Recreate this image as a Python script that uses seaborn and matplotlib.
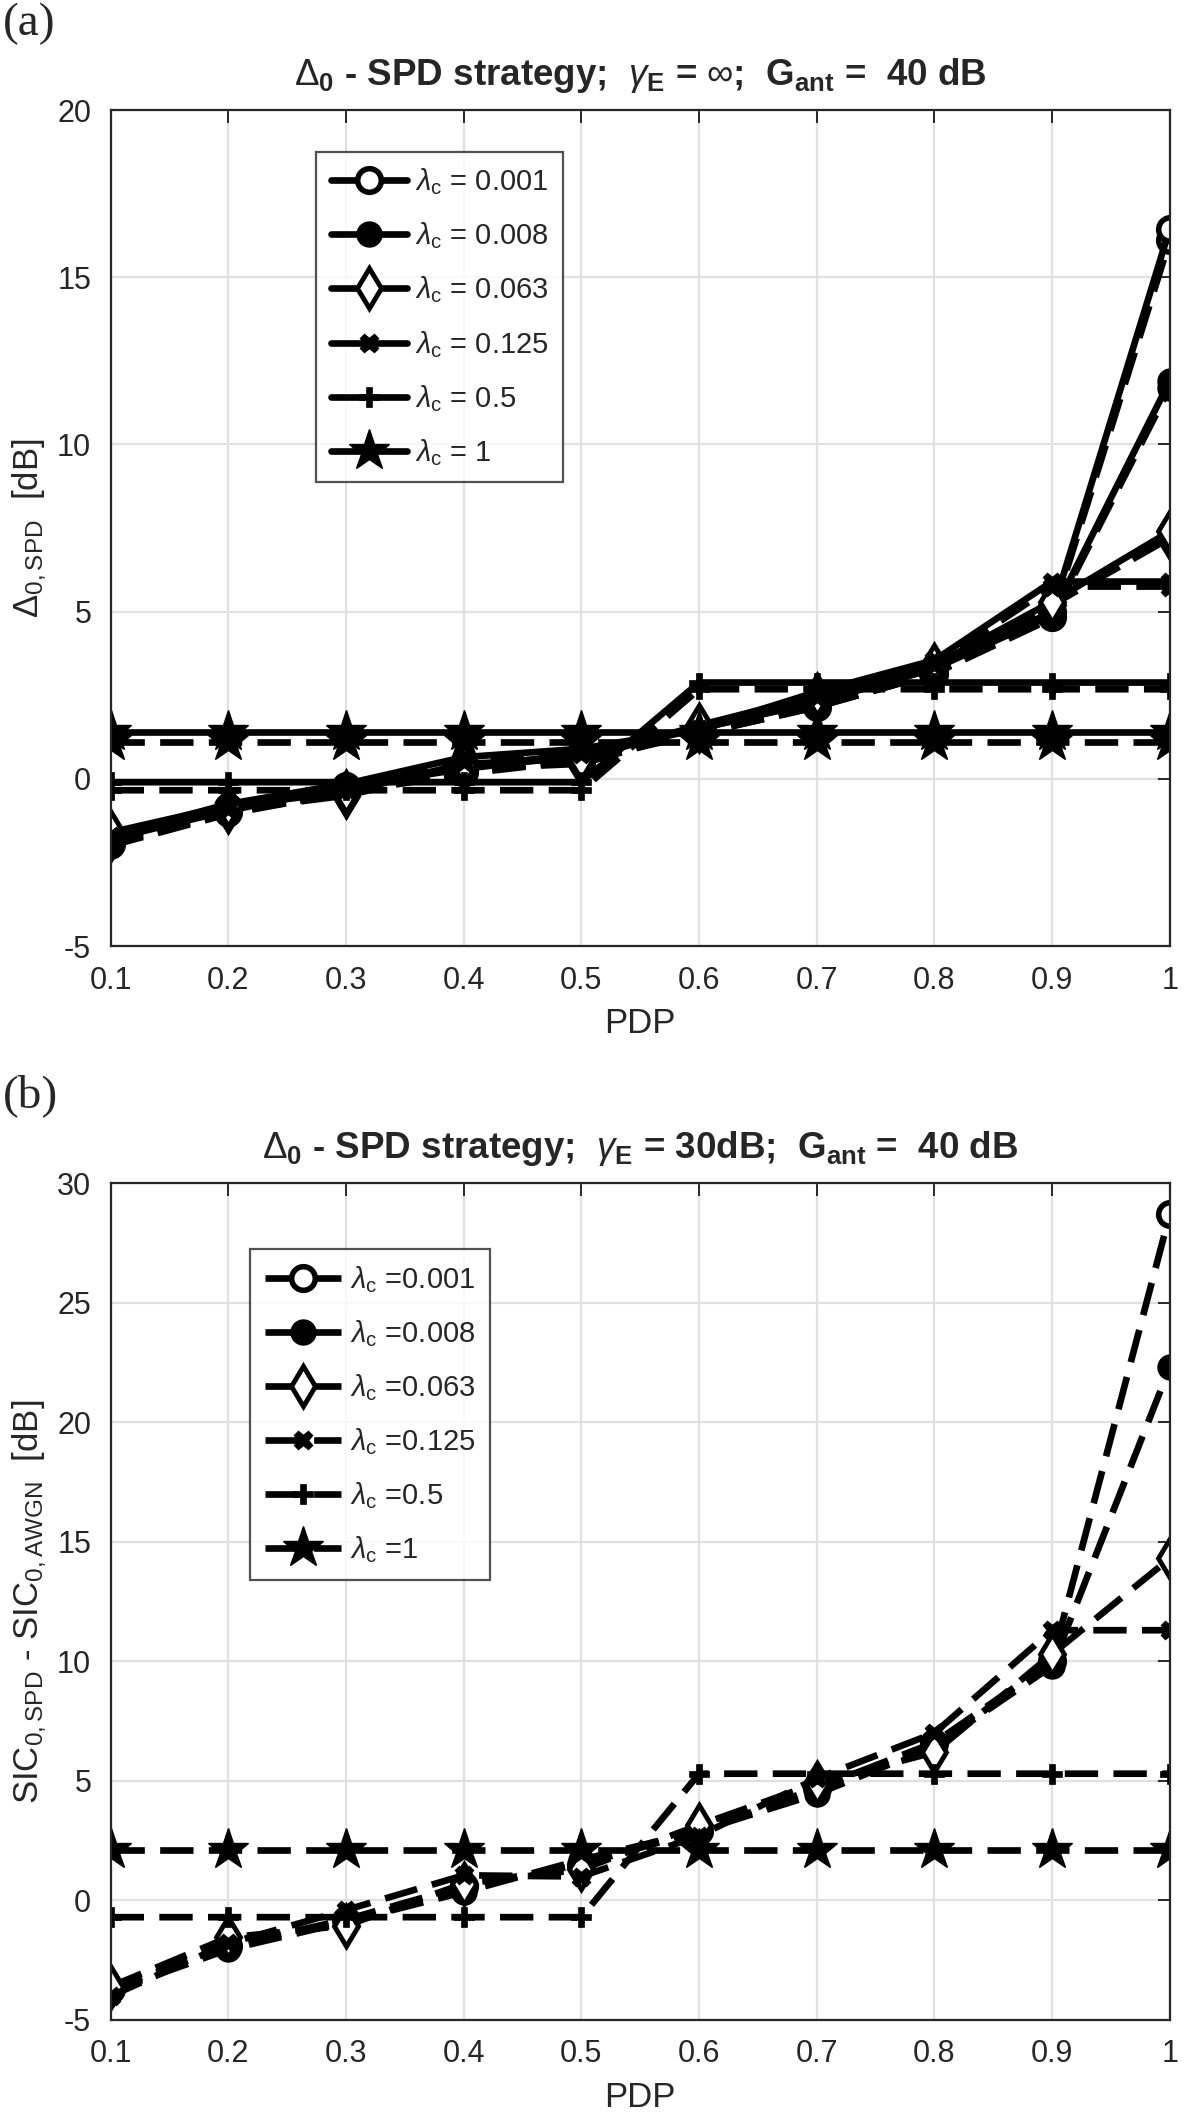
import numpy as np
import pandas as pd
import matplotlib
matplotlib.use("Agg")
import matplotlib.pyplot as plt
import seaborn as sns

sns.set_theme(style="white")
plt.rcParams['font.family'] = ['Liberation Sans', 'DejaVu Sans']
plt.rcParams['mathtext.fontset'] = 'custom'
plt.rcParams['mathtext.rm'] = 'Liberation Sans'
plt.rcParams['mathtext.it'] = 'Liberation Sans:italic'
plt.rcParams['mathtext.bf'] = 'Liberation Sans:bold'
plt.rcParams['axes.unicode_minus'] = False

# ---------------- data ----------------
pdp = [0.1, 0.2, 0.3, 0.4, 0.5, 0.6, 0.7, 0.8, 0.9, 1.0]
lambdas = ["0.001", "0.008", "0.063", "0.125", "0.5", "1"]

# panel (a): simulation (solid) and analysis (dashed)
a_sim_0001 = [-1.75, -0.85, -0.20, 0.35, 0.75, 1.50, 2.30, 3.30, 5.00, 16.45]
a_sim_0008 = [-1.80, -0.95, -0.25, 0.30, 0.70, 1.50, 2.30, 3.30, 4.90, 11.90]
a_sim_0063 = [-1.60, -0.80, -0.40, 0.45, 0.60, 1.60, 2.50, 3.40, 5.30, 7.40]
a_sim_0125 = [-1.70, -0.75, -0.15, 0.65, 0.90, 1.50, 2.60, 3.55, 5.90, 5.90]
a_sim_05 = [-0.10, -0.10, -0.10, -0.10, -0.10, 2.88, 2.88, 2.88, 2.88, 2.88]
a_sim_1 = [1.41, 1.41, 1.41, 1.41, 1.41, 1.41, 1.41, 1.41, 1.41, 1.41]

a_ana_0001 = [-1.95, -1.00, -0.35, 0.20, 0.60, 1.35, 2.15, 3.15, 4.85, 16.10]
a_ana_0008 = [-2.00, -1.05, -0.40, 0.15, 0.55, 1.35, 2.15, 3.15, 4.80, 11.70]
a_ana_0063 = [-1.80, -0.95, -0.50, 0.30, 0.45, 1.45, 2.35, 3.25, 5.20, 7.20]
a_ana_0125 = [-1.90, -0.90, -0.30, 0.50, 0.75, 1.35, 2.45, 3.40, 5.75, 5.75]
a_ana_05 = [-0.34, -0.34, -0.34, -0.34, -0.34, 2.68, 2.68, 2.68, 2.68, 2.68]
a_ana_1 = [1.11, 1.11, 1.11, 1.11, 1.11, 1.11, 1.11, 1.11, 1.11, 1.11]

# panel (b): dashed only
b_0001 = [-3.70, -1.90, -0.80, 0.60, 1.50, 2.90, 4.70, 6.60, 10.00, 28.70]
b_0008 = [-3.80, -2.05, -0.90, 0.35, 1.70, 2.90, 4.45, 6.45, 9.80, 22.30]
b_0063 = [-3.60, -1.55, -1.05, 0.70, 1.30, 3.15, 4.90, 6.20, 10.30, 14.30]
b_0125 = [-4.00, -1.80, -0.40, 1.05, 1.00, 2.70, 5.10, 7.00, 11.30, 11.30]
b_05 = [-0.70, -0.70, -0.70, -0.70, -0.70, 5.30, 5.30, 5.30, 5.30, 5.30]
b_1 = [2.10, 2.10, 2.10, 2.10, 2.10, 2.10, 2.10, 2.10, 2.10, 2.10]

xtick_vals = [0.1, 0.2, 0.3, 0.4, 0.5, 0.6, 0.7, 0.8, 0.9, 1.0]
xtick_labels = ["0.1", "0.2", "0.3", "0.4", "0.5", "0.6", "0.7", "0.8", "0.9", "1"]
a_yticks = [-5, 0, 5, 10, 15, 20]
b_yticks = [-5, 0, 5, 10, 15, 20, 25, 30]

# ---------------- styles ----------------
marker_styles = [
    dict(marker='o', markersize=17, markerfacecolor='white', markeredgewidth=4),
    dict(marker='o', markersize=17, markerfacecolor='black', markeredgewidth=2),
    dict(marker='d', markersize=20, markerfacecolor='white', markeredgewidth=3.5),
    dict(marker='X', markersize=13, markerfacecolor='black', markeredgewidth=1),
    dict(marker='P', markersize=14, markerfacecolor='black', markeredgewidth=0.5),
    dict(marker='*', markersize=31, markerfacecolor='black', markeredgewidth=1),
]
LW = 4.8
DASH = (0, (5.0, 2.3))

fig = plt.figure(figsize=(11.9, 21.16), dpi=100)
ax_a = fig.add_axes([0.093, 0.5529, 0.890, 0.3951])
ax_b = fig.add_axes([0.093, 0.04537, 0.890, 0.39553])


def style_axes(ax, yticks, ylim):
    ax.set_xlim(0.1, 1.0)
    ax.set_ylim(*ylim)
    ax.set_xticks(xtick_vals)
    ax.set_xticklabels(xtick_labels)
    ax.set_yticks(yticks)
    ax.set_yticklabels([str(t) for t in yticks])
    ax.grid(True, color='#e0e0e0', linewidth=1.6)
    ax.set_axisbelow(True)
    ax.tick_params(direction='in', length=9, width=1.4, color='#262626',
                   top=True, right=True, labelsize=22, pad=14,
                   labelcolor='#262626')
    for s in ax.spines.values():
        s.set_color('#262626')
        s.set_linewidth(1.6)
        s.set_visible(True)


def legend_label(lam, spaced):
    return (r'$\lambda_{\rm c}$ = ' + lam) if spaced else (r'$\lambda_{\rm c}$ =' + lam)


# ---------- panel (a) ----------
a_sim = [a_sim_0001, a_sim_0008, a_sim_0063, a_sim_0125, a_sim_05, a_sim_1]
a_ana = [a_ana_0001, a_ana_0008, a_ana_0063, a_ana_0125, a_ana_05, a_ana_1]
handles_a = []
for lam, ys, ya, ms in zip(lambdas, a_sim, a_ana, marker_styles):
    df = pd.DataFrame({"PDP": pdp, "sim": ys, "ana": ya})
    sns.lineplot(data=df, x="PDP", y="ana", ax=ax_a, color='black', linewidth=LW,
                 linestyle=DASH, markeredgecolor='black', legend=False, **ms)
    sns.lineplot(data=df, x="PDP", y="sim", ax=ax_a, color='black', linewidth=LW,
                 linestyle='-', markeredgecolor='black', legend=False, **ms)
    handles_a.append(ax_a.lines[-1])

style_axes(ax_a, a_yticks, (-5, 20))
ax_a.set_xlabel("PDP", fontsize=25, color='#262626', labelpad=8)
ax_a.set_ylabel(r'$\Delta_{\rm 0,SPD}$  [dB]', fontsize=25, color='#262626', labelpad=6)
ax_a.set_title(r'$\Delta_{\mathbf{0}}$ - SPD strategy;  $\gamma_{\mathbf{E}}$ = $\infty$;  G$_{\mathbf{ant}}$ =  40 dB',
               fontsize=26.5, fontweight='bold', pad=18, color='#262626')
leg_a = ax_a.legend(handles_a, [legend_label(l, True) for l in lambdas],
                    loc='upper left', bbox_to_anchor=(0.194, 0.950),
                    fontsize=21, frameon=True, fancybox=False, edgecolor='#262626',
                    handlelength=2.6, handletextpad=0.3, labelspacing=0.8,
                    borderpad=0.5, borderaxespad=0)
leg_a.get_frame().set_linewidth(1.6)

# ---------- panel (b) ----------
b_all = [b_0001, b_0008, b_0063, b_0125, b_05, b_1]
handles_b = []
for lam, yb, ms in zip(lambdas, b_all, marker_styles):
    df = pd.DataFrame({"PDP": pdp, "val": yb})
    sns.lineplot(data=df, x="PDP", y="val", ax=ax_b, color='black', linewidth=LW,
                 linestyle=DASH, markeredgecolor='black', legend=False, **ms)
    handles_b.append(ax_b.lines[-1])

style_axes(ax_b, b_yticks, (-5, 30))
ax_b.set_xlabel("PDP", fontsize=25, color='#262626', labelpad=8)
ax_b.set_ylabel(r'SIC$_{\rm 0,SPD}$ - SIC$_{\rm 0,AWGN}$  [dB]', fontsize=25,
                color='#262626', labelpad=6)
ax_b.set_title(r'$\Delta_{\mathbf{0}}$ - SPD strategy;  $\gamma_{\mathbf{E}}$ = 30dB;  G$_{\mathbf{ant}}$ =  40 dB',
               fontsize=26.5, fontweight='bold', pad=18, color='#262626')
leg_b = ax_b.legend(handles_b, [legend_label(l, False) for l in lambdas],
                    loc='upper left', bbox_to_anchor=(0.132, 0.921),
                    fontsize=21, frameon=True, fancybox=False, edgecolor='#262626',
                    handlelength=2.6, handletextpad=0.3, labelspacing=0.8,
                    borderpad=0.5, borderaxespad=0)
leg_b.get_frame().set_linewidth(1.6)

fig.text(0.002, 0.999, '(a)', ha='left', va='top', fontsize=34,
         family=['Liberation Serif', 'DejaVu Serif'])
fig.text(0.002, 0.4925, '(b)', ha='left', va='top', fontsize=34,
         family=['Liberation Serif', 'DejaVu Serif'])

fig.savefig("out.png", dpi=100, facecolor='white')
